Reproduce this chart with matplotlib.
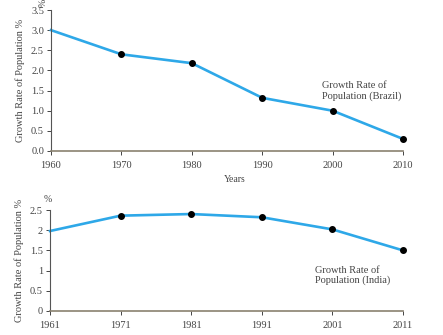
import matplotlib
matplotlib.use("Agg")
import matplotlib.pyplot as plt

# growth rate of population, %
brazil_years = [1960, 1970, 1980, 1990, 2000, 2010]
brazil_rate = [3.0, 2.4, 2.18, 1.32, 1.0, 0.3]
india_years = [1961, 1971, 1981, 1991, 2001, 2011]
india_rate = [1.98, 2.36, 2.4, 2.32, 2.02, 1.5]

brazil_ticks = [0.0, 0.5, 1.0, 1.5, 2.0, 2.5, 3.0, 3.5]
brazil_ticklabels = ["0.0", "0.5", "1.0", "1.5", "2.0", "2.5", "3.0", "3.5"]
india_ticks = [0, 0.5, 1, 1.5, 2, 2.5]
india_ticklabels = ["0", "0.5", "1", "1.5", "2", "2.5"]

LINE = "#2ea8e8"
TEXT = "#444444"
plt.rcParams["font.family"] = ["Liberation Serif", "DejaVu Serif"]

fig = plt.figure(figsize=(4.43, 3.35), dpi=100)
W, H = 443, 335


def make_axes(left, right, top, bottom):
    return fig.add_axes([left / W, 1 - bottom / H, (right - left) / W, (bottom - top) / H])


def style(ax, years, ticks, ticklabels, ymax):
    ax.set_xlim(years[0], years[-1])
    ax.set_ylim(0, ymax)
    ax.set_xticks(years)
    ax.set_yticks(ticks)
    ax.set_yticklabels(ticklabels)
    for s in ("top", "right"):
        ax.spines[s].set_visible(False)
    ax.spines["left"].set_color("#555555")
    ax.spines["left"].set_linewidth(0.8)
    ax.spines["bottom"].set_color("#8a8270")
    ax.spines["bottom"].set_linewidth(1.2)
    ax.tick_params(labelsize=7.5, colors=TEXT, length=3, width=0.7, pad=2)
    ax.tick_params(axis="x", pad=4)
    ax.set_ylabel("Growth Rate of Population %", fontsize=7.5, color=TEXT, labelpad=4)


def draw(ax, years, rate):
    ax.plot(years, rate, color=LINE, lw=1.9, zorder=2, clip_on=False)
    ax.plot(years[1:], rate[1:], "o", color="black", ms=4, zorder=3, clip_on=False)


ax1 = make_axes(51, 403, 10, 151)
draw(ax1, brazil_years, brazil_rate)
style(ax1, brazil_years, brazil_ticks, brazil_ticklabels, 3.5)
ax1.text(1998.5, 1.74, "Growth Rate of\nPopulation (Brazil)", fontsize=7.5,
         color=TEXT, va="top", ha="left", linespacing=1.15)
ax1.text(-0.01, 1.02, "%", transform=ax1.transAxes, fontsize=7, color=TEXT,
         rotation=90, ha="right", va="bottom")
fig.text(235 / W, 1 - 180 / H, "Years", fontsize=7, color=TEXT, ha="center", va="center")

ax2 = make_axes(50, 403, 210, 311)
draw(ax2, india_years, india_rate)
style(ax2, india_years, india_ticks, india_ticklabels, 2.5)
ax2.text(1998.6, 1.12, "Growth Rate of\nPopulation (India)", fontsize=7.5,
         color=TEXT, va="top", ha="left", linespacing=1.15)
ax2.text(-0.005, 1.06, "%", transform=ax2.transAxes, fontsize=7, color=TEXT,
         ha="center", va="bottom")

fig.savefig("out.png", dpi=100)
